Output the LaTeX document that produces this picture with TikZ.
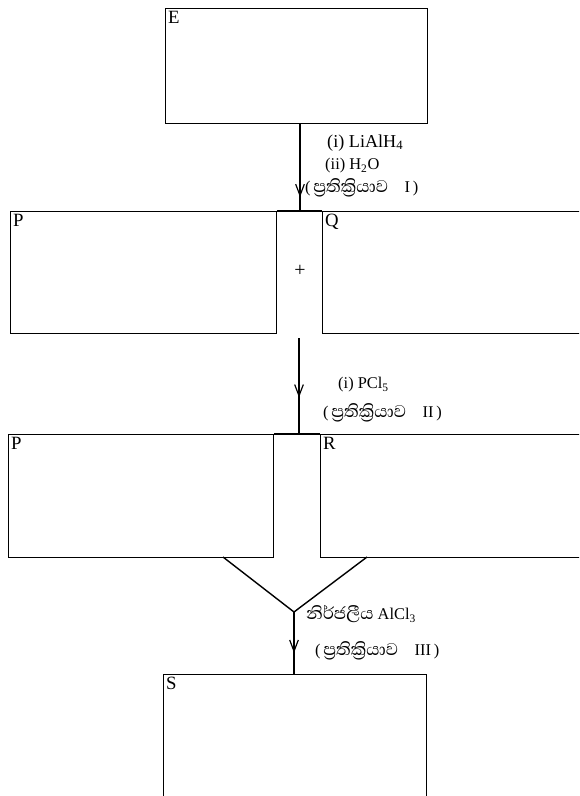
\documentclass[tikz,border=0pt]{standalone}
\usepackage{fontspec}
\setmainfont{Liberation Serif}
\newfontfamily\sinfont[Script=Sinhala, Scale=1.33]{Abhaya Libre}
\usepackage{tikz}
\usetikzlibrary{arrows.meta,decorations.markings}

\newcommand{\reac}[1]{(\,{\sinfont ප්^^^^200dරතික්^^^^200dරියාව}\quad #1\,)}

\begin{document}
\begin{tikzpicture}[
    x=0.03cm, y=-0.03cm,
    box/.style={draw, line width=1.2pt, anchor=north west, inner sep=0pt},
    tag/.style={anchor=north west, inner sep=2.5pt, font=\fontsize{16}{18}\selectfont},
    txt/.style={anchor=west, inner sep=0pt, font=\fontsize{14}{16}\selectfont},
    line/.style={line width=1.2pt},
    midarr/.style={postaction={decorate}, decoration={markings,
        mark=at position #1 with {\arrow{Straight Barb[length=3.4mm, width=2.6mm, line width=1pt]}}}}
]
    \clip (0,0) rectangle (579,796);
    \fill[white] (0,0) rectangle (579,796);

    % boxes
    \node[box, minimum width=7.86cm, minimum height=3.45cm] (E) at (165,8) {};
    \node[box, minimum width=7.98cm, minimum height=3.66cm] (P1) at (10,211) {};
    \node[box, minimum width=8.04cm, minimum height=3.66cm] (Q) at (322,211) {};
    \node[box, minimum width=7.95cm, minimum height=3.69cm] (P2) at (8,434) {};
    \node[box, minimum width=8.10cm, minimum height=3.69cm] (R) at (320,434) {};
    \node[box, minimum width=7.89cm, minimum height=3.90cm] (S) at (163,674) {};

    \node[tag] (tE) at (E.north west) {E};
    \node[tag] (tP1) at (P1.north west) {P};
    \node[tag] (tQ) at (Q.north west) {Q};
    \node[tag] (tP2) at (P2.north west) {P};
    \node[tag] (tR) at (R.north west) {R};
    \node[tag] (tS) at (S.north west) {S};

    % joints
    \coordinate (j1) at (300,211);
    \coordinate (j2) at (299,338);
    \coordinate (j3) at (294,612);
    \coordinate (vl) at (223,557);
    \coordinate (vr) at (367,557);

    \draw[line] (P1.north east) -- (Q.north west);
    \draw[line] (P2.north east) -- (R.north west);
    \draw[line, midarr=0.84] (E.south -| j1) -- (j1);
    \draw[line, midarr=0.62] (j2) -- (j2 |- P2.north);
    \draw[line] (vl) -- (j3) -- (vr);
    \draw[line, midarr=0.66] (j3) -- (j3 |- S.north);

    % reagents
    \node[txt, font=\fontsize{15.5}{17}\selectfont] (r1a) at (327,143) {(i) LiAlH\textsubscript{4}};
    \node[txt] (r1b) at (325,166) {(ii) H\textsubscript{2}O};
    \node[txt] (r1c) at (305,188) {\reac{I}};
    \node[txt, anchor=center, font=\fontsize{17}{19}\selectfont] (plus) at (300,271) {+};
    \node[txt] (r2a) at (338,385) {(i) PCl\textsubscript{5}};
    \node[txt] (r2b) at (323,413) {\reac{II}};
    \node[txt] (r3a) at (306,614) {{\sinfont නිර්ජලීය} AlCl\textsubscript{3}};
    \node[txt] (r3b) at (315,651) {\reac{III}};
\end{tikzpicture}
\end{document}
